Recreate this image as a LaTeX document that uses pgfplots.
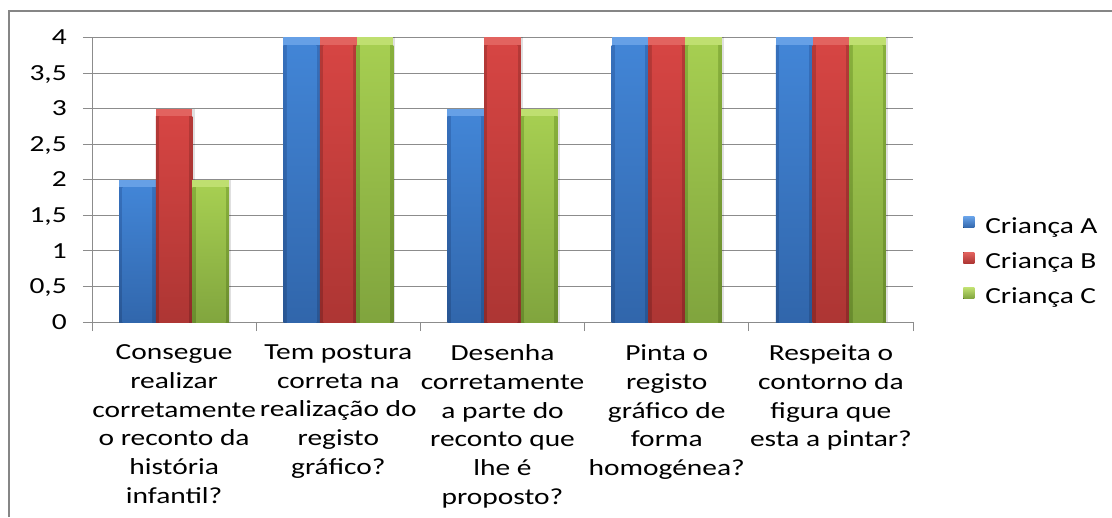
\documentclass[border=0pt]{standalone}
\usepackage{fontspec}
\setmainfont{Carlito}[FakeStretch=1.28]
\usepackage{pgfplots}
\pgfplotsset{compat=1.18}
\definecolor{gridgray}{HTML}{8C8C8C}
\definecolor{framegray}{HTML}{868686}
% blue
\definecolor{Abev}{HTML}{66A0E6}
\definecolor{Aet}{HTML}{3670BC}
\definecolor{Aeb}{HTML}{285592}
\definecolor{Amt}{HTML}{4285D6}
\definecolor{Amb}{HTML}{3065AA}
% red
\definecolor{Bbev}{HTML}{E2635F}
\definecolor{Bet}{HTML}{B53937}
\definecolor{Beb}{HTML}{8F2A29}
\definecolor{Bmt}{HTML}{D64543}
\definecolor{Bmb}{HTML}{AC3533}
% green
\definecolor{Cbev}{HTML}{BFDF70}
\definecolor{Cet}{HTML}{88B03C}
\definecolor{Ceb}{HTML}{688A2D}
\definecolor{Cmt}{HTML}{A6CE51}
\definecolor{Cmb}{HTML}{7FA33D}
\newcommand{\lfont}{\fontsize{17.25}{21.6}\selectfont}
% one bar: #1 x, #2 bar shift, #3 series prefix, #4 value
\newcommand{\cbar}[4]{%
\addplot[ybar, bar width=0.2235, bar shift=#2, draw=none, forget plot, fill=black, fill opacity=0.12, xshift=1.6pt] coordinates {(#1,#4)};
\addplot[ybar, bar width=0.2235, bar shift=#2, draw=none, forget plot, fill=#3bev] coordinates {(#1,#4)};
\addplot[ybar, bar width=0.2235, bar shift=#2, draw=none, forget plot, top color=#3et, bottom color=#3eb, yshift=-6pt] coordinates {(#1,#4)};
\addplot[ybar, bar width=0.18, bar shift=#2, draw=none, forget plot, top color=#3mt, bottom color=#3mb, yshift=-6pt] coordinates {(#1,#4)};
}
\begin{document}
\begin{tikzpicture}[font=\lfont]
\path[use as bounding box] (0pt,0pt) rectangle (834pt,387.75pt);
\draw[framegray, line width=1.5pt] (6.75pt,0pt) -- (6.75pt,379.5pt) -- (834pt,379.5pt);
\begin{axis}[
  at={(69pt,146.25pt)}, anchor=south west,
  scale only axis, width=615.75pt, height=213.4pt,
  xmin=-0.5, xmax=4.5, ymin=0, ymax=4,
  axis lines=left,
  axis line style={-, draw=gridgray, line width=0.75pt},
  tick align=outside,
  major tick length=6.75pt,
  tick style={draw=gridgray, line width=0.75pt},
  ymajorgrids,
  grid style={draw=gridgray, line width=0.75pt},
  ytick={0,0.5,1,1.5,2,2.5,3,3.5,4},
  yticklabels={0,{0,5},1,{1,5},2,{2,5},3,{3,5},4},
  yticklabel style={anchor=east, inner sep=0pt, text height=10.9pt, text depth=0pt, xshift=-12pt, font=\lfont},
  xtick={-0.5,0.5,1.5,2.5,3.5,4.5},
  xticklabels={
    {Consegue\\realizar\\corretamente\\o reconto da\\história\\infantil?},
    {Tem postura\\correta na\\realização do\\registo\\gráfico?},
    {Desenha\\corretamente\\a parte do\\reconto que\\lhe é\\proposto?},
    {Pinta o\\registo\\gráfico de\\forma\\homogénea?},
    {Respeita o\\contorno da\\figura que\\esta a pintar?},
    {}},
  xticklabel style={anchor=north, align=center, inner sep=0pt, xshift=61.6pt, yshift=-10pt, font=\lfont},
  legend style={at={(axis description cs:1.0609,0.370)}, anchor=north west, draw=none, fill=none,
    inner sep=0pt, font=\lfont, row sep=10.25pt,
    nodes={inner sep=0pt, text height=12pt, text depth=4pt}},
  legend cell align=left,
  legend image code/.code={\fill[#1] (0pt,0pt) rectangle (8.25pt,8.25pt); \path (16.5pt,0pt);},
]
\cbar{0}{-0.2235}{A}{2}
\cbar{0}{0}{B}{3}
\cbar{0}{0.2235}{C}{2}
\cbar{1}{-0.2235}{A}{4}
\cbar{1}{0}{B}{4}
\cbar{1}{0.2235}{C}{4}
\cbar{2}{-0.2235}{A}{3}
\cbar{2}{0}{B}{4}
\cbar{2}{0.2235}{C}{3}
\cbar{3}{-0.2235}{A}{4}
\cbar{3}{0}{B}{4}
\cbar{3}{0.2235}{C}{4}
\cbar{4}{-0.2235}{A}{4}
\cbar{4}{0}{B}{4}
\cbar{4}{0.2235}{C}{4}
\addlegendimage{top color=Abev, bottom color=Amb, draw=none}
\addlegendentry{Criança A}
\addlegendimage{top color=Bbev, bottom color=Bmb, draw=none}
\addlegendentry{Criança B}
\addlegendimage{top color=Cbev, bottom color=Cmb, draw=none}
\addlegendentry{Criança C}
\end{axis}
\end{tikzpicture}
\end{document}
